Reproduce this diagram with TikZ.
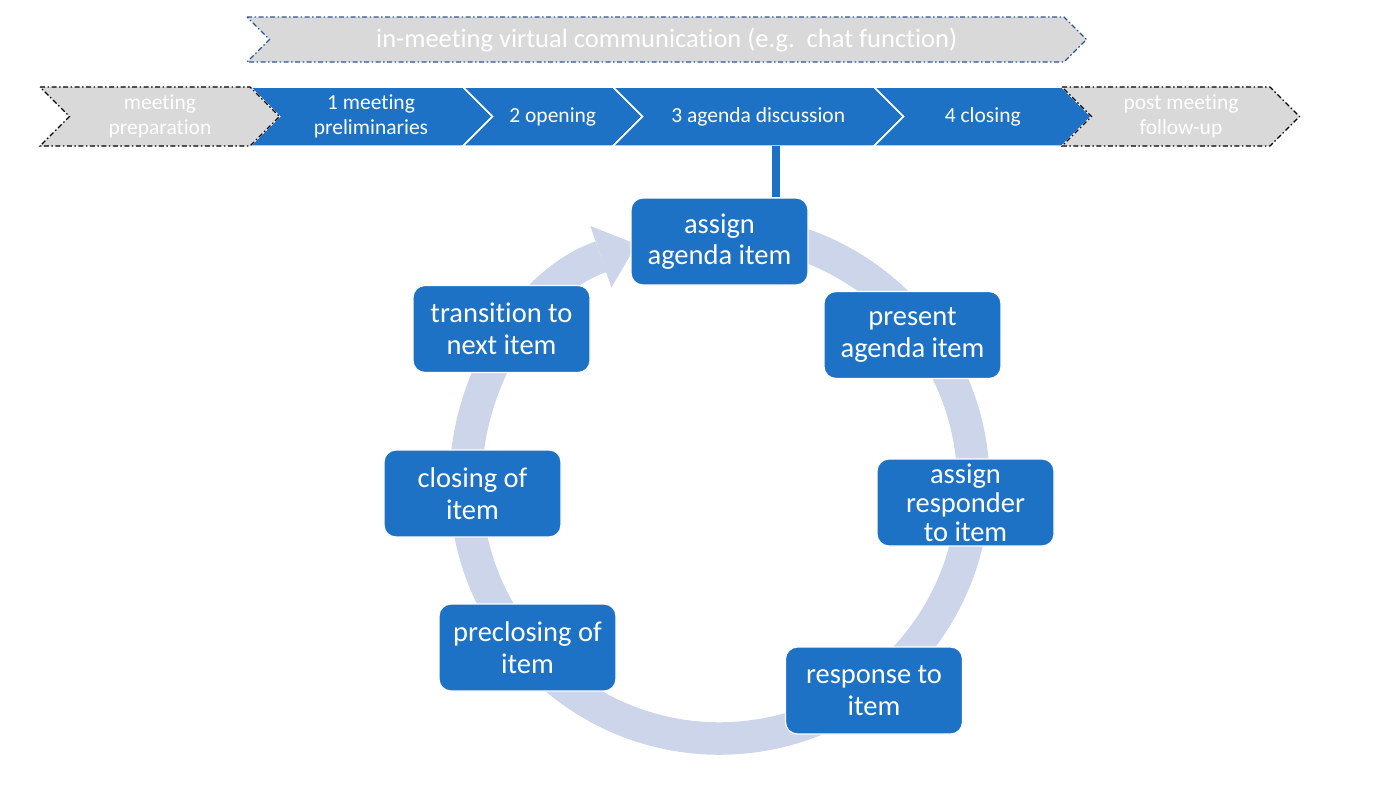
\documentclass[tikz,border=0pt]{standalone}
\usepackage{fontspec}
\setmainfont{Carlito}[Ligatures=NoCommon]
\usepackage{xcolor}
\usepackage{tikz}
\usetikzlibrary{arrows.meta, calc}

\definecolor{stageblue}{RGB}{30,114,198}
\definecolor{ringblue}{RGB}{205,213,234}
\definecolor{phasegray}{RGB}{217,217,217}
\definecolor{bannerline}{RGB}{47,85,151}

% chevron: style, left x, right x, top y, bottom y
\newcommand{\chevron}[5]{%
  \path[#1] (#2,#4) -- (#3,#4) -- ({#3+(#5-#4)/2},{(#4+#5)/2}) -- (#3,#5) -- (#2,#5) -- ({#2+(#5-#4)/2},{(#4+#5)/2}) -- cycle;}

\begin{document}
\begin{tikzpicture}[x=1pt, y=-1pt,
    stagechev/.style={fill=stageblue, draw=white, line width=1.5pt},
    outerchev/.style={fill=phasegray, draw=black, line width=1.2pt, dash pattern=on 5pt off 2.5pt on 1.5pt off 2.5pt},
    bannerchev/.style={fill=phasegray, draw=bannerline, line width=1.1pt, dash pattern=on 5pt off 2.5pt on 1.5pt off 2.5pt},
    chevtext/.style={text=white, align=center, font=\fontsize{21.5}{24.5}\selectfont},
    bannertext/.style={text=white, font=\fontsize{26.5}{30}\selectfont},
    itembox/.style={rectangle, fill=stageblue, draw=white, line width=1.2pt, rounded corners=12pt, text=white, align=center, minimum width=177pt, minimum height=87pt, inner xsep=2pt, inner ysep=0pt, font=\fontsize{28.5}{31.5}\selectfont},
    cyclering/.style={draw=ringblue, line width=32.5pt, -{Triangle[length=38pt, width=65pt, line width=0pt]}},
    link/.style={draw=stageblue, line width=8pt}
]
    \useasboundingbox (0,0) rectangle (1378,785);

    % Banner: in-meeting communication (spans the meeting stages)
    \chevron{bannerchev}{247}{1064}{17}{62}
    \node[bannertext] (virtual) at (666.75,40) {in-meeting virtual communication (e.g.\ \ chat function)};

    % Stage row: blue meeting stages, gray outer phases on top
    \chevron{stagechev}{250}{463}{87}{146}
    \chevron{stagechev}{463}{613}{87}{146}
    \chevron{stagechev}{613}{874}{87}{146}
    \chevron{stagechev}{874}{1062}{87}{146}
    \chevron{outerchev}{40}{250}{87}{146}
    \chevron{outerchev}{1062}{1270}{87}{146}

    \node[chevtext] (prep) at (160,116.5) {meeting\\preparation};
    \node[chevtext] (prelim) at (371,116.5) {1 meeting\\preliminaries};
    \node[chevtext] (opening) at (552.75,116.5) {2 opening};
    \node[chevtext] (agenda) at (758.25,116.5) {3 agenda discussion};
    \node[chevtext] (closing) at (982.75,116.5) {4 closing};
    \node[chevtext] (followup) at (1181,116.5) {post meeting\\follow-up};

    % Agenda item cycle (clockwise ring behind the boxes)
    \coordinate (hub) at (719.5,484.5);
    \draw[cyclering] ([shift={(95:254pt)}]hub) arc[start angle=95, end angle=-251, radius=254pt];

    \node[itembox] (assign) at (719.5,241.5) {assign\\agenda item};
    \node[itembox] (present) at (912.5,335) {present\\agenda item};
    \node[itembox, font=\fontsize{28.5}{29}\selectfont] (responder) at (965.5,502.5) {assign\\responder\\to item};
    \node[itembox] (response) at (874,690.5) {response to\\item};
    \node[itembox] (preclosing) at (527.5,647.5) {preclosing of\\item};
    \node[itembox] (itemclose) at (472.5,493.5) {closing of\\item};
    \node[itembox] (transition) at (501.5,329) {transition to\\next item};

    % Link from stage 3 down into the cycle
    \coordinate (agendafoot) at (776,146);
    \draw[link] (agendafoot) -- (agendafoot |- assign.north);
\end{tikzpicture}
\end{document}
